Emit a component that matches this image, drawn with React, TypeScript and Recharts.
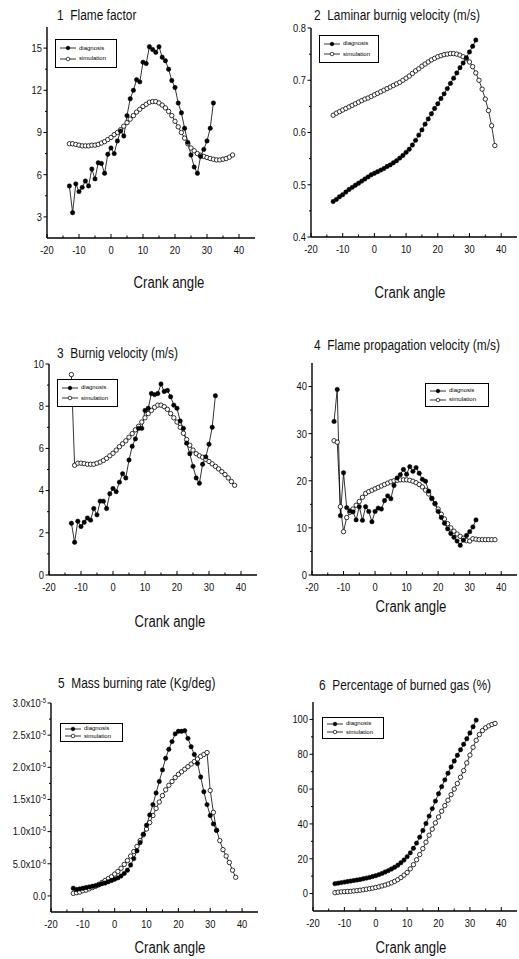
import React from 'react';
import { LineChart, Line, XAxis, YAxis, Legend } from 'recharts';

const FONT = '"Liberation Sans", Arial, sans-serif';

// crank angle (deg) of each sample
const diagAngles = [
  -13, -12, -11, -10, -9, -8, -7, -6, -5, -4, -3, -2, -1, 0, 1, 2, 3, 4, 5, 6, 7, 8, 9, 10,
  11, 12, 13, 14, 15, 16, 17, 18, 19, 20, 21, 22, 23, 24, 25, 26, 27, 28, 29, 30, 31, 32,
];
const simAngles = [
  -13, -12, -11, -10, -9, -8, -7, -6, -5, -4, -3, -2, -1, 0, 1, 2, 3, 4, 5, 6, 7, 8, 9, 10,
  11, 12, 13, 14, 15, 16, 17, 18, 19, 20, 21, 22, 23, 24, 25, 26, 27, 28, 29, 30, 31, 32,
  33, 34, 35, 36, 37, 38,
];

// 1 flame factor
const flameDiag = [
  5.2, 3.3, 5.35, 4.8, 5.1, 5.55, 5.2, 6.4, 5.7, 6.85, 6.8, 6.1, 7.45, 7.9, 7.5, 8.4, 9.1, 8.75,
  10.2, 11.4, 12.0, 12.75, 12.6, 14.0, 13.9, 15.1, 14.9, 14.7, 15.1, 14.35, 14.1, 13.5, 12.7,
  12.2, 11.1, 10.4, 9.3, 8.3, 7.4, 6.55, 6.1, 7.3, 7.8, 8.4, 9.3, 11.1,
];
const flameSim = [
  8.2, 8.2, 8.15, 8.1, 8.05, 8.05, 8.05, 8.1, 8.1, 8.15, 8.25, 8.35, 8.5, 8.65, 8.85, 9.0, 9.2,
  9.45, 9.7, 9.95, 10.2, 10.45, 10.65, 10.85, 11.0, 11.15, 11.2, 11.2, 11.1, 10.95, 10.75, 10.5,
  10.2, 9.8, 9.4, 9.0, 8.6, 8.2, 7.9, 7.7, 7.5, 7.38, 7.3, 7.22, 7.15, 7.1, 7.05, 7.05, 7.1,
  7.15, 7.25, 7.4,
];

// 2 laminar burning velocity (m/s)
const laminarDiag = [
  0.468, 0.472, 0.477, 0.481, 0.486, 0.491, 0.495, 0.499, 0.503, 0.507, 0.511, 0.515, 0.519,
  0.522, 0.525, 0.528, 0.531, 0.535, 0.538, 0.542, 0.546, 0.551, 0.556, 0.562, 0.568, 0.576,
  0.585, 0.595, 0.605, 0.616, 0.626, 0.636, 0.646, 0.655, 0.665, 0.674, 0.684, 0.694, 0.704,
  0.714, 0.724, 0.733, 0.743, 0.754, 0.765, 0.777,
];
const laminarSim = [
  0.633, 0.637, 0.64, 0.643, 0.646, 0.649, 0.652, 0.655, 0.658, 0.661, 0.664, 0.666, 0.669,
  0.672, 0.675, 0.678, 0.681, 0.684, 0.687, 0.69, 0.693, 0.696, 0.7, 0.704, 0.708, 0.713, 0.718,
  0.722, 0.727, 0.731, 0.735, 0.739, 0.742, 0.745, 0.747, 0.749, 0.75, 0.751, 0.751, 0.75,
  0.748, 0.745, 0.741, 0.735, 0.726, 0.714, 0.7, 0.683, 0.664, 0.642, 0.613, 0.575,
];

// 3 burning velocity (m/s)
const burnDiag = [
  2.45, 1.55, 2.55, 2.3, 2.5, 2.7, 2.6, 3.15, 2.85, 3.5, 3.5, 3.15, 3.85, 4.1, 3.95, 4.4, 4.8,
  4.6, 5.45, 6.1, 6.45, 6.95, 6.95, 7.8, 7.9, 8.6, 8.55, 8.6, 9.05, 8.7, 8.75, 8.45, 8.05, 7.9,
  7.3, 6.95, 6.25, 5.75, 5.15, 4.6, 4.35, 5.25, 5.6, 6.2, 7.0, 8.5,
];
const burnSim = [
  9.5, 5.2, 5.3, 5.3, 5.28, 5.25, 5.25, 5.25, 5.3, 5.35, 5.43, 5.53, 5.65, 5.77, 5.92, 6.08,
  6.22, 6.36, 6.53, 6.7, 6.88, 7.05, 7.25, 7.45, 7.65, 7.8, 7.95, 8.05, 8.05, 7.98, 7.85, 7.65,
  7.45, 7.25, 7.0, 6.72, 6.42, 6.15, 5.92, 5.75, 5.65, 5.58, 5.48, 5.38, 5.27, 5.15, 5.03, 4.9,
  4.76, 4.6, 4.43, 4.25,
];

// 4 flame propagation velocity (m/s)
const propDiag = [
  32.6, 39.4, 12.6, 21.7, 14.3, 13.6, 13.4, 11.7, 14.5, 11.6, 14.5, 13.5, 11.3, 13.5, 14.2,
  14.0, 15.8, 16.8, 16.2, 19.0, 20.6, 21.3, 22.4, 21.4, 23.0, 22.0, 22.8, 21.6, 20.3, 19.9,
  17.8, 16.3, 15.2, 13.5, 12.2, 11.0, 9.8, 8.8, 8.0, 7.2, 6.3, 7.4, 8.4, 9.2, 10.2, 11.7,
];
const propSim = [
  28.5, 28.2, 14.5, 9.2, 12.2, 13.3, 14.0, 14.8, 15.6, 16.5, 17.3, 17.7, 18.0, 18.3, 18.6, 18.9,
  19.2, 19.5, 19.8, 20.0, 20.1, 20.2, 20.2, 20.2, 20.1, 19.9, 19.6, 19.2, 18.7, 18.0, 17.2,
  16.2, 15.1, 14.0, 12.9, 11.9, 10.9, 10.0, 9.3, 8.7, 8.2, 7.8, 7.3, 7.2, 7.7, 7.6, 7.5, 7.5,
  7.5, 7.5, 7.5, 7.5,
];

// 5 mass burning rate, in units of 1e-5 kg/deg
const massDiag = [
  0.12, 0.1, 0.11, 0.12, 0.13, 0.14, 0.15, 0.16, 0.17, 0.19, 0.2, 0.22, 0.24, 0.26, 0.28, 0.31,
  0.35, 0.4, 0.48, 0.58, 0.7, 0.83, 0.96, 1.1, 1.26, 1.42, 1.6, 1.78, 1.96, 2.14, 2.28, 2.4,
  2.52, 2.56, 2.56, 2.57, 2.45, 2.32, 2.2, 2.06, 1.85, 1.62, 1.42, 1.25, 1.12, 1.02,
];
const massSim = [
  0.04, 0.05, 0.06, 0.08, 0.09, 0.11, 0.13, 0.15, 0.18, 0.21, 0.24, 0.27, 0.3, 0.34, 0.38, 0.43,
  0.49, 0.55, 0.62, 0.69, 0.77, 0.86, 0.95, 1.04, 1.14, 1.25, 1.36, 1.46, 1.56, 1.65, 1.72,
  1.78, 1.84, 1.89, 1.93, 1.97, 2.01, 2.05, 2.09, 2.13, 2.17, 2.2, 2.23, 1.64, 1.3, 1.02, 0.86,
  0.72, 0.62, 0.52, 0.4, 0.29,
];

// 6 percentage of burned gas (%)
const burnedDiag = [
  5.7, 6.0, 6.3, 6.6, 6.9, 7.2, 7.5, 7.8, 8.1, 8.5, 8.9, 9.3, 9.8, 10.3, 10.9, 11.6, 12.4, 13.2,
  14.1, 15.1, 16.3, 17.7, 19.3, 21.2, 23.4, 26.0, 29.0, 32.4, 36.2, 40.2, 44.5, 48.8, 53.1,
  57.3, 61.4, 65.3, 69.1, 72.7, 76.1, 79.4, 82.6, 85.7, 88.9, 92.2, 95.8, 99.6,
];
const burnedSim = [
  0.5, 0.8, 1.0, 1.1, 1.2, 1.3, 1.5, 1.7, 1.9, 2.2, 2.5, 2.8, 3.1, 3.5, 3.9, 4.4, 4.9, 5.5, 6.2,
  7.0, 8.0, 9.2, 10.6, 12.1, 14.2, 16.6, 19.4, 22.4, 25.8, 29.5, 33.5, 37.0, 40.6, 44.0, 47.3,
  50.5, 53.6, 56.8, 60.0, 63.2, 66.8, 70.6, 75.0, 79.5, 84.0, 88.0, 91.3, 93.6, 95.2, 96.3,
  97.1, 97.7,
];

const angleTicks = [-20, -15, -10, -5, 0, 5, 10, 15, 20, 25, 30, 35, 40];
const angleLabels = [-20, -10, 0, 10, 20, 30, 40];

const toPoints = (xs: number[], ys: number[]) => xs.map((x, i) => ({ x, y: ys[i] }));
const near = (list: number[], v: number) => list.some((m) => Math.abs(m - v) < 1e-9);

type Fmt = (v: number) => React.ReactNode;

// the print uses a condensed face; squeeze Liberation Sans horizontally
const SQUEEZE = 0.85;

const bottomTick = (p: any) => {
  const major = near(angleLabels, p.payload.value);
  return (
    <g>
      <line x1={p.x} x2={p.x} y1={p.y} y2={p.y - (major ? 4 : 2.5)} stroke="#000" />
      {major && (
        <text
          transform={`translate(${p.x} ${p.y + 16}) scale(${SQUEEZE} 1)`}
          textAnchor="middle"
          fontSize={11}
          fontFamily={FONT}
          fill="#111"
        >
          {p.payload.value}
        </text>
      )}
    </g>
  );
};

const topTick = (p: any) => {
  const major = near(angleLabels, p.payload.value);
  return <line x1={p.x} x2={p.x} y1={p.y} y2={p.y + (major ? 4 : 2.5)} stroke="#000" />;
};

const leftTick = (majors: number[], fmt: Fmt) => (p: any) => {
  const major = near(majors, p.payload.value);
  return (
    <g>
      <line x1={p.x - (major ? 3.5 : 2)} x2={p.x} y1={p.y} y2={p.y} stroke="#000" />
      {major && (
        <text
          transform={`translate(${p.x - 5} ${p.y}) scale(${SQUEEZE} 1)`}
          dy="0.35em"
          textAnchor="end"
          fontSize={11}
          fontFamily={FONT}
          fill="#111"
        >
          {fmt(p.payload.value)}
        </text>
      )}
    </g>
  );
};

const rightTick = (majors: number[]) => (p: any) => {
  const major = near(majors, p.payload.value);
  return <line x1={p.x} x2={p.x - (major ? 4 : 2.5)} y1={p.y} y2={p.y} stroke="#000" />;
};

const massFmt: Fmt = (v) => {
  if (v === 0) return '0.0';
  if (Math.abs(v - 0.5) < 1e-9)
    return (
      <>
        <tspan>5.0x10</tspan>
        <tspan dy={-4} fontSize={7}>-6</tspan>
      </>
    );
  return (
    <>
      <tspan>{v.toFixed(1)}x10</tspan>
      <tspan dy={-4} fontSize={7}>-5</tspan>
    </>
  );
};

const LegendBox = ({ payload }: any) => {
  const items = [...(payload || [])].sort((a: any) => (a.value === 'diagnosis' ? -1 : 1));
  return (
    <div
      style={{
        width: '100%',
        height: '100%',
        boxSizing: 'border-box',
        border: '1px solid #000',
        background: '#fff',
        padding: '1px 3px',
        fontFamily: FONT,
        fontSize: 6,
        display: 'flex',
        flexDirection: 'column',
        justifyContent: 'space-evenly',
      }}
    >
      {items.map((it: any) => (
        <div key={it.value} style={{ display: 'flex', alignItems: 'center', gap: 2, lineHeight: '7px' }}>
          <svg width={18} height={6}>
            <line x1={1} x2={17} y1={3} y2={3} stroke="#000" strokeWidth={0.8} />
            <circle
              cx={9}
              cy={3}
              r={1.8}
              fill={it.value === 'diagnosis' ? '#000' : '#fff'}
              stroke="#000"
              strokeWidth={0.7}
            />
          </svg>
          <span>{it.value}</span>
        </div>
      ))}
    </div>
  );
};

type Rect = { x: number; y: number; w: number; h: number };

type PanelProps = {
  box: Rect;
  plot: { l: number; t: number; r: number; b: number };
  yDomain: [number, number];
  yTicks: number[];
  yMajors: number[];
  yFmt: Fmt;
  title: string;
  titleAt: [number, number];
  xLabelAt: [number, number];
  legend: Rect;
  diag: number[];
  sim: number[];
};

function Panel(p: PanelProps) {
  const { box, plot } = p;
  return (
    <>
      <div
        style={{
          position: 'absolute',
          left: p.titleAt[0],
          top: p.titleAt[1] - 8,
          fontFamily: FONT,
          fontSize: 14,
          lineHeight: '16px',
          whiteSpace: 'pre',
          color: '#111',
          transform: `scaleX(${SQUEEZE})`,
          transformOrigin: 'left center',
        }}
      >
        {p.title}
      </div>
      <div style={{ position: 'absolute', left: box.x, top: box.y }}>
        <LineChart
          width={box.w}
          height={box.h}
          margin={{ top: plot.t - box.y, right: box.x + box.w - plot.r, bottom: 0, left: 0 }}
        >
          <XAxis
            xAxisId="b"
            dataKey="x"
            type="number"
            domain={[-20, 45]}
            allowDataOverflow
            ticks={angleTicks}
            interval={0}
            height={box.y + box.h - plot.b}
            tickSize={0}
            tickMargin={0}
            tickLine={false}
            axisLine={{ stroke: '#000', strokeWidth: 1.4 }}
            tick={bottomTick}
          />
          <XAxis
            xAxisId="t"
            orientation="top"
            type="number"
            domain={[-20, 45]}
            allowDataOverflow
            ticks={angleTicks}
            interval={0}
            height={0}
            tickSize={0}
            tickMargin={0}
            tickLine={false}
            axisLine={{ stroke: '#000', strokeWidth: 1 }}
            tick={topTick}
          />
          <YAxis
            yAxisId="l"
            type="number"
            domain={p.yDomain}
            allowDataOverflow
            ticks={p.yTicks}
            interval={0}
            width={plot.l - box.x}
            tickSize={0}
            tickMargin={0}
            tickLine={false}
            axisLine={{ stroke: '#000', strokeWidth: 1.4 }}
            tick={leftTick(p.yMajors, p.yFmt)}
          />
          <YAxis
            yAxisId="r"
            orientation="right"
            type="number"
            domain={p.yDomain}
            allowDataOverflow
            ticks={p.yTicks}
            interval={0}
            width={0}
            tickSize={0}
            tickMargin={0}
            tickLine={false}
            axisLine={{ stroke: '#000', strokeWidth: 1 }}
            tick={rightTick(p.yMajors)}
          />
          <Legend
            layout="horizontal"
            verticalAlign="middle"
            align="center"
            content={LegendBox}
            wrapperStyle={{
              left: p.legend.x - box.x,
              top: p.legend.y - box.y,
              width: p.legend.w,
              height: p.legend.h,
            }}
          />
          <Line
            xAxisId="b"
            yAxisId="l"
            name="simulation"
            data={toPoints(simAngles, p.sim)}
            dataKey="y"
            type="linear"
            stroke="#000"
            strokeWidth={0.8}
            dot={{ r: 2.2, fill: '#fff', stroke: '#000', strokeWidth: 0.8 }}
            activeDot={false}
            isAnimationActive={false}
          />
          <Line
            xAxisId="b"
            yAxisId="l"
            name="diagnosis"
            data={toPoints(diagAngles, p.diag)}
            dataKey="y"
            type="linear"
            stroke="#000"
            strokeWidth={0.8}
            dot={{ r: 2.2, fill: '#000', stroke: '#000', strokeWidth: 0.5 }}
            activeDot={false}
            isAnimationActive={false}
          />
        </LineChart>
      </div>
      <div
        style={{
          position: 'absolute',
          left: p.xLabelAt[0] - 60,
          top: p.xLabelAt[1] - 9,
          width: 120,
          textAlign: 'center',
          fontFamily: FONT,
          fontSize: 16,
          lineHeight: '18px',
          color: '#111',
          transform: 'scaleX(0.82)',
        }}
      >
        Crank angle
      </div>
    </>
  );
}

const intFmt: Fmt = (v) => String(v);
const oneDec: Fmt = (v) => v.toFixed(1);

export default function App() {
  return (
    <div
      style={{
        position: 'absolute',
        left: 0,
        top: 0,
        width: 519,
        height: 959,
        background: '#fff',
        overflow: 'hidden',
      }}
    >
      <Panel
        box={{ x: 0, y: 0, w: 259, h: 300 }}
        plot={{ l: 47, t: 27, r: 255, b: 238 }}
        yDomain={[1.5, 16.5]}
        yTicks={[3, 4.5, 6, 7.5, 9, 10.5, 12, 13.5, 15]}
        yMajors={[3, 6, 9, 12, 15]}
        yFmt={intFmt}
        title="1  Flame factor"
        titleAt={[57, 15]}
        xLabelAt={[169, 283]}
        legend={{ x: 55, y: 39, w: 62, h: 29 }}
        diag={flameDiag}
        sim={flameSim}
      />
      <Panel
        box={{ x: 259, y: 0, w: 260, h: 300 }}
        plot={{ l: 311, t: 28, r: 517, b: 237 }}
        yDomain={[0.4, 0.8]}
        yTicks={[0.4, 0.45, 0.5, 0.55, 0.6, 0.65, 0.7, 0.75, 0.8]}
        yMajors={[0.4, 0.5, 0.6, 0.7, 0.8]}
        yFmt={oneDec}
        title="2  Laminar burnig velocity (m/s)"
        titleAt={[314, 15]}
        xLabelAt={[410, 293]}
        legend={{ x: 319, y: 35, w: 60, h: 28 }}
        diag={laminarDiag}
        sim={laminarSim}
      />
      <Panel
        box={{ x: 0, y: 320, w: 259, h: 300 }}
        plot={{ l: 49, t: 364, r: 257, b: 575 }}
        yDomain={[0, 10]}
        yTicks={[0, 1, 2, 3, 4, 5, 6, 7, 8, 9, 10]}
        yMajors={[0, 2, 4, 6, 8, 10]}
        yFmt={intFmt}
        title="3  Burnig velocity (m/s)"
        titleAt={[57, 353]}
        xLabelAt={[170, 622]}
        legend={{ x: 57, y: 379, w: 61, h: 28 }}
        diag={burnDiag}
        sim={burnSim}
      />
      <Panel
        box={{ x: 259, y: 320, w: 260, h: 300 }}
        plot={{ l: 312, t: 363, r: 517, b: 575 }}
        yDomain={[0, 45]}
        yTicks={[0, 5, 10, 15, 20, 25, 30, 35, 40]}
        yMajors={[0, 10, 20, 30, 40]}
        yFmt={intFmt}
        title="4  Flame propagation velocity (m/s)"
        titleAt={[314, 345]}
        xLabelAt={[411, 607]}
        legend={{ x: 425, y: 383, w: 64, h: 24 }}
        diag={propDiag}
        sim={propSim}
      />
      <Panel
        box={{ x: 0, y: 640, w: 259, h: 319 }}
        plot={{ l: 51, t: 703, r: 258, b: 912 }}
        yDomain={[-0.25, 3]}
        yTicks={[0, 0.25, 0.5, 0.75, 1, 1.25, 1.5, 1.75, 2, 2.25, 2.5, 2.75, 3]}
        yMajors={[0, 0.5, 1, 1.5, 2, 2.5, 3]}
        yFmt={massFmt}
        title="5  Mass burning rate (Kg/deg)"
        titleAt={[58, 683]}
        xLabelAt={[170, 948]}
        legend={{ x: 60, y: 723, w: 63, h: 19 }}
        diag={massDiag}
        sim={massSim}
      />
      <Panel
        box={{ x: 259, y: 640, w: 260, h: 319 }}
        plot={{ l: 313, t: 702, r: 517, b: 911 }}
        yDomain={[-10, 110]}
        yTicks={[0, 10, 20, 30, 40, 50, 60, 70, 80, 90, 100]}
        yMajors={[0, 20, 40, 60, 80, 100]}
        yFmt={intFmt}
        title="6  Percentage of burned gas (%)"
        titleAt={[319, 685]}
        xLabelAt={[411, 948]}
        legend={{ x: 322, y: 717, w: 62, h: 22 }}
        diag={burnedDiag}
        sim={burnedSim}
      />
    </div>
  );
}
